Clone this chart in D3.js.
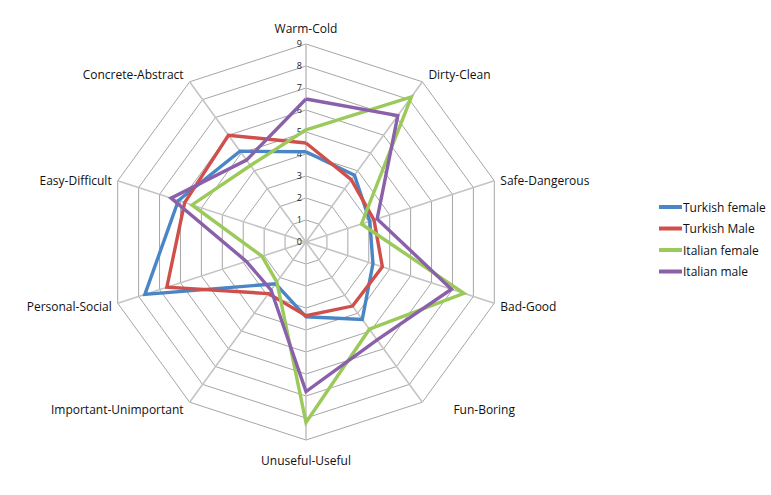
<!DOCTYPE html>
<html><head><meta charset="utf-8">
<script src="https://cdn.jsdelivr.net/npm/d3@7"></script>
<style>body{margin:0;background:#fff}svg{display:block}text{font-family:"Open Sans","Liberation Sans",sans-serif}</style>
</head><body><svg id="c" width="771" height="495"></svg>
<script>
const axes = ["Warm-Cold","Dirty-Clean","Safe-Dangerous","Bad-Good","Fun-Boring","Unuseful-Useful","Important-Unimportant","Personal-Social","Easy-Difficult","Concrete-Abstract"];
const seriesNames = ["Turkish female","Turkish Male","Italian female","Italian male"];
const turkishFemale = [4.1,3.75,3.05,3.2,4.35,3.4,2.35,7.7,6.1,5.1];
const turkishMale   = [4.5,3.5,3.25,3.65,3.6,3.35,2.9,6.65,5.8,6.0];
const italianFemale = [5.1,8.15,2.65,7.55,4.9,8.2,2.25,2.1,5.45,4.3];
const italianMale   = [6.5,7.1,3.4,6.95,5.5,6.8,2.7,2.85,6.45,4.6];
const ticks = [0,1,2,3,4,5,6,7,8,9];
const colors = ["#4A86C5","#D04F4B","#9BC95A","#8A60AA"];
const seriesData = [turkishFemale,turkishMale,italianFemale,italianMale];

const svg = d3.select("#c");
const cx = 306, cy = 242;
const r = d3.scaleLinear().domain([0,9]).range([0,198]);
const ang = d3.scaleLinear().domain([0,axes.length]).range([0,2*Math.PI]);
const pt = (i,v)=>[cx+Math.sin(ang(i))*r(v), cy-Math.cos(ang(i))*r(v)];
const g = svg.append("g");

// rings
ticks.slice(1).forEach(t=>{
  g.append("path").attr("d", d3.line()(axes.map((a,i)=>pt(i,t)).concat([pt(0,t)])))
   .attr("fill","none").attr("stroke","#a6a6a6").attr("stroke-width",1);
});
// spokes
axes.forEach((a,i)=>{
  const p = pt(i,9);
  g.append("line").attr("x1",cx).attr("y1",cy).attr("x2",p[0]).attr("y2",p[1])
   .attr("stroke","#c4c4c4").attr("stroke-width",1.6);
});
// tick labels
ticks.forEach(t=>{
  g.append("text").attr("x",cx-4).attr("y",cy-r(t)+3).attr("text-anchor","end")
   .attr("font-size",9).attr("fill","#222").text(t);
});
// axis labels
axes.forEach((a,i)=>{
  const s = Math.sin(ang(i)), c = -Math.cos(ang(i));
  const p = pt(i,9);
  let anchor = Math.abs(s)<0.01 ? "middle" : (s>0 ? "start":"end");
  let x = p[0] + (Math.abs(s)<0.01?0:(s>0?6:-6));
  let y;
  if (Math.abs(s)<0.01) y = c<0 ? p[1]-11 : p[1]+25;
  else if (Math.abs(c)>0.5) y = c<0 ? p[1]-3 : p[1]+12;
  else y = c<0 ? p[1]+4 : p[1]+8;
  if (a==="Fun-Boring") x += 25;
  g.append("text").attr("x",x).attr("y",y).attr("text-anchor",anchor)
   .attr("font-size",12).attr("fill","#111").text(a);
});
// series
const line = d3.line().x(d=>d[0]).y(d=>d[1]);
seriesData.forEach((vals,k)=>{
  const pts = vals.map((v,i)=>pt(i,v));
  pts.push(pts[0]);
  g.append("path").attr("d",line(pts)).attr("fill","none")
   .attr("stroke",colors[k]).attr("stroke-width",3.4).attr("stroke-linejoin","miter");
});
// legend
seriesNames.forEach((n,k)=>{
  const y = 207 + k*21.5;
  svg.append("line").attr("x1",659).attr("x2",682).attr("y1",y).attr("y2",y)
    .attr("stroke",colors[k]).attr("stroke-width",4);
  svg.append("text").attr("x",683).attr("y",y+4.5).attr("font-size",12).attr("fill","#111").text(n);
});
</script></body></html>
